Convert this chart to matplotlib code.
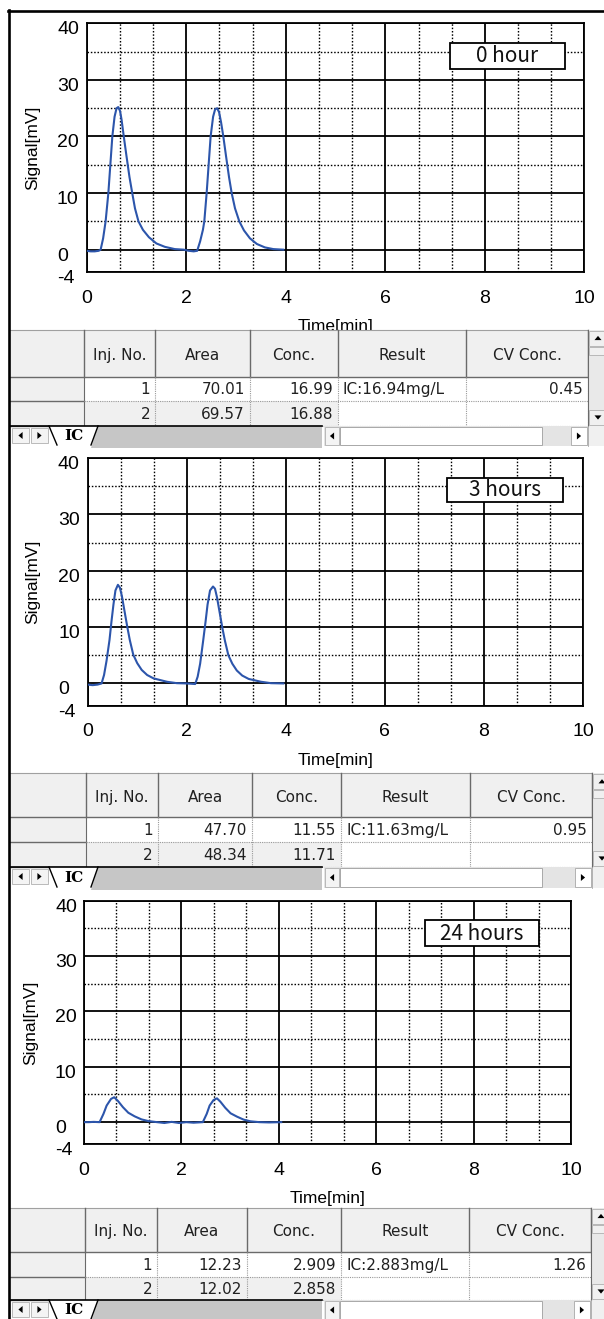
import matplotlib
matplotlib.use("Agg")
import matplotlib.pyplot as plt
import matplotlib.transforms as mtransforms
from matplotlib.patches import Rectangle, Polygon
from matplotlib.lines import Line2D
from matplotlib.ticker import MultipleLocator

W, H, DPI = 604, 1319, 100
plt.rcParams['font.family'] = ['Liberation Sans', 'DejaVu Sans']

# ---------------- data ----------------
panel_labels = ["0 hour", "3 hours", "24 hours"]
x_label = "Time[min]"
y_label = "Signal[mV]"
x_ticks = [0, 2, 4, 6, 8, 10]
y_ticks = [-4, 0, 10, 20, 30, 40]

time_0h = [0.00, 0.08, 0.16, 0.24, 0.28, 0.33, 0.38, 0.435, 0.475, 0.515, 0.56, 0.60, 0.635,
           0.67, 0.70, 0.745, 0.80, 0.86, 0.915, 0.97, 1.04, 1.13, 1.25, 1.40, 1.57, 1.77,
           1.95, 2.05, 2.15, 2.22, 2.28, 2.335, 2.363, 2.41, 2.45, 2.49, 2.54, 2.58, 2.62,
           2.66, 2.70, 2.745, 2.80, 2.86, 2.913, 2.98, 3.066, 3.16, 3.28, 3.42, 3.58, 3.75, 3.95]
signal_0h = [-0.2, -0.3, -0.3, -0.2, 0.0, 2.0, 5.0, 10.0, 15.0, 20.0, 23.5, 25.0, 25.2,
             24.5, 23.0, 20.0, 16.5, 12.8, 10.0, 7.3, 5.0, 3.5, 2.2, 1.1, 0.5, 0.1,
             0.0, -0.2, -0.3, -0.2, 1.5, 3.5, 5.0, 10.0, 15.0, 20.0, 23.5, 24.8, 25.0,
             24.3, 22.5, 20.0, 16.5, 12.8, 10.0, 7.3, 5.0, 3.4, 2.0, 1.0, 0.4, 0.1, 0.0]

time_3h = [0.00, 0.10, 0.20, 0.28, 0.33, 0.38, 0.44, 0.48, 0.52, 0.56, 0.61, 0.65, 0.69,
           0.74, 0.80, 0.85, 0.92, 1.00, 1.09, 1.20, 1.33, 1.60, 1.80, 2.00, 2.17, 2.22,
           2.27, 2.33, 2.38, 2.42, 2.47, 2.53, 2.57, 2.61, 2.66, 2.72, 2.77, 2.84, 2.92,
           3.01, 3.12, 3.25, 3.50, 3.70, 3.95]
signal_3h = [-0.2, -0.3, -0.2, 0.0, 1.5, 4.0, 7.7, 11.0, 14.0, 16.5, 17.5, 17.0, 15.5,
             13.0, 10.0, 7.7, 5.1, 3.6, 2.4, 1.5, 0.9, 0.3, 0.05, 0.0, -0.1, 1.2,
             3.5, 7.5, 11.0, 14.0, 16.5, 17.2, 16.8, 15.3, 12.8, 9.8, 7.6, 5.0, 3.5,
             2.3, 1.4, 0.8, 0.3, 0.05, 0.0]

time_24h = [0.00, 0.10, 0.20, 0.32, 0.40, 0.465, 0.555, 0.62, 0.70, 0.80, 0.91, 1.04, 1.18,
            1.32, 1.50, 1.65, 1.80, 1.95, 2.10, 2.25, 2.44, 2.52, 2.58, 2.66, 2.73, 2.80,
            2.90, 3.01, 3.14, 3.28, 3.42, 3.60, 3.80, 4.05]
signal_24h = [0.0, 0.0, 0.05, 0.0, 1.5, 3.0, 4.2, 4.5, 3.8, 2.7, 1.7, 1.05, 0.5,
              0.2, 0.0, -0.15, 0.05, -0.15, 0.0, -0.1, 0.0, 1.5, 3.0, 4.0, 4.3, 3.7,
              2.6, 1.6, 1.0, 0.45, 0.15, 0.0, -0.05, 0.0]

table_columns = ["Inj. No.", "Area", "Conc.", "Result", "CV Conc."]
inj_no = [1, 2]
area_0h = [70.01, 69.57]
conc_0h = [16.99, 16.88]
result_0h = "IC:16.94mg/L"
cv_0h = 0.45
area_3h = [47.70, 48.34]
conc_3h = [11.55, 11.71]
result_3h = "IC:11.63mg/L"
cv_3h = 0.95
area_24h = [12.23, 12.02]
conc_24h = [2.909, 2.858]
result_24h = "IC:2.883mg/L"
cv_24h = 1.26
sheet_tab = "IC"

# ---------------- layout (pixels) ----------------
layouts = [
    dict(ax=(86.7, 23.3, 584.4, 272.3), ytx=57, ylab_x=33, leg=(449.5, 42.7, 565.0, 69.0),
         tbl=(330.0, 376.7, 401.0, 426.0, 446.0), cols=(84, 155, 250, 338, 466, 588), cfmt="{:.2f}"),
    dict(ax=(87.7, 458.0, 583.0, 706.0), ytx=58, ylab_x=33, leg=(447.0, 478.0, 563.0, 502.0),
         tbl=(773.3, 817.3, 842.0, 867.0, 888.0), cols=(86, 158, 252, 341, 470, 592), cfmt="{:.2f}"),
    dict(ax=(84.0, 900.7, 571.0, 1144.3), ytx=55, ylab_x=31, leg=(424.5, 920.0, 539.0, 946.0),
         tbl=(1208.0, 1251.7, 1277.0, 1300.0, 1320.0), cols=(84.7, 157, 247, 341, 469, 591), cfmt="{:.3f}"),
]

series = [(time_0h, signal_0h), (time_3h, signal_3h), (time_24h, signal_24h)]
tables = [(area_0h, conc_0h, result_0h, cv_0h),
          (area_3h, conc_3h, result_3h, cv_3h),
          (area_24h, conc_24h, result_24h, cv_24h)]

LINE = '#2c55ab'
HDR = '#f0f0f0'
DARK = '#6a6a6a'
DOT = '#9a9a9a'
TFONT = 'DejaVu Sans'

fig = plt.figure(figsize=(W / DPI, H / DPI), dpi=DPI)
fig.patch.set_facecolor('white')

ov = fig.add_axes([0, 0, 1, 1], zorder=10)
ov.set_xlim(0, W)
ov.set_ylim(H, 0)
ov.axis('off')


def hline(x0, x1, y, **kw):
    ov.add_line(Line2D([x0, x1], [y, y], **kw))


def vline(x, y0, y1, **kw):
    ov.add_line(Line2D([x, x], [y0, y1], **kw))


def tri(cx, cy, d, s=3.5, color='black'):
    if d == 'l':
        pts = [(cx - s * 0.6, cy), (cx + s * 0.6, cy - s), (cx + s * 0.6, cy + s)]
    elif d == 'r':
        pts = [(cx + s * 0.6, cy), (cx - s * 0.6, cy - s), (cx - s * 0.6, cy + s)]
    elif d == 'u':
        pts = [(cx, cy - s * 0.6), (cx - s, cy + s * 0.6), (cx + s, cy + s * 0.6)]
    else:
        pts = [(cx, cy + s * 0.6), (cx - s, cy - s * 0.6), (cx + s, cy - s * 0.6)]
    ov.add_patch(Polygon(pts, closed=True, fc=color, ec='none', zorder=8))


for lay, (tt, ss), label, tbl in zip(layouts, series, panel_labels, tables):
    l, t, r, b = lay['ax']
    ax = fig.add_axes([l / W, 1 - b / H, (r - l) / W, (b - t) / H], zorder=1)
    ax.set_xlim(0, 10)
    ax.set_ylim(-4, 40)
    ax.plot(tt, ss, color=LINE, lw=1.5, zorder=3)
    ax.set_xticks(x_ticks, labels=[str(v) for v in x_ticks])
    ax.set_yticks(y_ticks, labels=[str(v) for v in y_ticks])
    ax.xaxis.set_minor_locator(MultipleLocator(2 / 3))
    ax.yaxis.set_minor_locator(MultipleLocator(5))
    ax.grid(which='major', color='black', lw=1.3, ls='-')
    ax.grid(which='minor', color='black', lw=1.0, ls=(0, (1.1, 1.3)))
    ax.set_axisbelow(True)
    ax.tick_params(which='both', length=0)
    ax.tick_params(axis='x', pad=12.5, labelsize=14)
    ax.tick_params(axis='y', pad=(l - lay['ytx']) * 72 / DPI, labelsize=14)
    off = mtransforms.ScaledTranslation(0, -4.5 / DPI, fig.dpi_scale_trans)
    for lab in ax.get_yticklabels():
        lab.set_horizontalalignment('left')
        lab.set_transform(lab.get_transform() + off)
    for sp in ax.spines.values():
        sp.set_linewidth(1.3)
        sp.set_color('black')
    ax.set_xlabel(x_label, fontsize=12.5, va='center')
    ax.xaxis.set_label_coords(0.5, -54 / (b - t))
    ax.set_ylabel(y_label, fontsize=12.5, va='center')
    ax.yaxis.set_label_coords((lay['ylab_x'] - l) / (r - l), 0.5)

    # legend box
    lx0, ly0, lx1, ly1 = lay['leg']
    ov.add_patch(Rectangle((lx0, ly0), lx1 - lx0, ly1 - ly0, fc='white', ec='black', lw=1.3, zorder=5))
    ov.text((lx0 + lx1) / 2, (ly0 + ly1) / 2 + 0.5, label, family='Noto Sans CJK JP', fontsize=15,
            ha='center', va='center', zorder=6, color='#111111')

    # ---------- table ----------
    top, hb, r1, r2, tb = lay['tbl']
    c = lay['cols']
    areas, concs, result, cv = tbl
    L = 10
    ov.add_patch(Rectangle((L, top), W - L, r2 - top, fc='white', ec='none', zorder=1))
    ov.add_patch(Rectangle((L, top), c[5] - L, hb - top, fc=HDR, ec='none', zorder=1))
    ov.add_patch(Rectangle((L, hb), c[0] - L, r2 - hb, fc=HDR, ec='none', zorder=1))
    ov.add_patch(Rectangle((c[0], r1), c[3] - c[0], r2 - r1, fc=HDR, ec='none', zorder=1))
    hline(L, c[5], top, color='#a0a0a0', lw=0.8, zorder=2)
    hline(L, c[5], hb, color=DARK, lw=1.0, zorder=2)
    for x in c:
        vline(x, top, hb, color=DARK, lw=1.0, zorder=2)
    vline(c[0], hb, r2, color=DARK, lw=0.8, zorder=2)
    hline(L, c[0], r1, color=DARK, lw=1.0, zorder=2)
    hline(L, c[0], r2, color=DARK, lw=1.0, zorder=2)
    for x in c[1:]:
        vline(x, hb, r2, color=DOT, lw=0.8, ls=(0, (1, 1)), zorder=2)
    hline(c[0], c[5], r1, color=DOT, lw=0.8, ls=(0, (1, 1)), zorder=2)
    hline(c[0], c[5], r2, color=DOT, lw=0.8, ls=(0, (1, 1)), zorder=2)

    for i, name in enumerate(table_columns):
        ov.text((c[i] + c[i + 1]) / 2, (top + hb) / 2 + 2, name, family=TFONT, fontsize=11,
                ha='center', va='center', color='#202020', zorder=3)
    rows_y = [(hb + r1) / 2 + 1, (r1 + r2) / 2 + 1]
    pad = 5
    for k in range(2):
        y = rows_y[k]
        ov.text(c[1] - pad, y, str(inj_no[k]), family=TFONT, fontsize=11, ha='right', va='center',
                color='#202020', zorder=3)
        ov.text(c[2] - pad, y, "{:.2f}".format(areas[k]), family=TFONT, fontsize=11, ha='right',
                va='center', color='#202020', zorder=3)
        ov.text(c[3] - pad, y, lay['cfmt'].format(concs[k]), family=TFONT, fontsize=11, ha='right',
                va='center', color='#202020', zorder=3)
    ov.text(c[3] + 5, rows_y[0], result, family=TFONT, fontsize=11, ha='left', va='center',
            color='#202020', zorder=3)
    ov.text(c[5] - pad, rows_y[0], "{:.2f}".format(cv), family=TFONT, fontsize=11, ha='right',
            va='center', color='#202020', zorder=3)

    # vertical scrollbar
    ov.add_patch(Rectangle((c[5], top), W - c[5], r2 - top, fc='#e9e9e9', ec='none', zorder=2))
    vline(c[5], top, r2, color=DARK, lw=0.8, zorder=3)
    ov.add_patch(Rectangle((c[5] + 1, top + 1), W - c[5], 15, fc=HDR, ec='#b0b0b0', lw=0.6, zorder=3))
    ov.add_patch(Rectangle((c[5] + 1, top + 17), W - c[5], 8, fc=HDR, ec='#b0b0b0', lw=0.6, zorder=3))
    ov.add_patch(Rectangle((c[5] + 1, r2 - 16), W - c[5], 15, fc=HDR, ec='#b0b0b0', lw=0.6, zorder=3))
    tri(c[5] + 10, top + 8, 'u', s=3.5)
    tri(c[5] + 10, r2 - 8.5, 'd', s=3.5)

    # ---------- sheet tab bar ----------
    y0, y1 = r2, tb
    ov.add_patch(Rectangle((L, y0), W - L, y1 - y0, fc='white', ec='none', zorder=1))
    for bx, d in [(12, 'l'), (31, 'r')]:
        ov.add_patch(Rectangle((bx, y0 + 2), 17, 15, fc='#f4f4f4', ec='#b0b0b0', lw=0.6, zorder=2))
        tri(bx + 8.5, y0 + 9.5, d, s=3.5)
    ov.add_patch(Polygon([(91, y1 + 2), (98, y0), (322, y0), (322, y1 + 2)], closed=True,
                         fc='#c6c6c6', ec='none', zorder=2))
    ov.add_patch(Polygon([(49, y0), (57, y1 - 1), (91, y1 - 1), (98, y0)], closed=True,
                         fc='white', ec='none', zorder=3))
    ov.add_line(Line2D([49, 57], [y0, y1 - 1], color='black', lw=1.0, zorder=4))
    ov.add_line(Line2D([91, 98], [y1 - 1, y0], color='black', lw=1.0, zorder=4))
    ov.text(74, (y0 + y1) / 2 + 0.5, sheet_tab, family='DejaVu Serif', weight='bold', fontsize=11,
            ha='center', va='center', zorder=4)
    hline(L, 322, y0, color='black', lw=1.2, zorder=4)
    ov.add_patch(Rectangle((324, y0), c[5] - 324, y1 - y0, fc='#e4e4e4', ec='none', zorder=2))
    ov.add_patch(Rectangle((325, y0 + 1), 14, y1 - y0 - 2, fc='#f4f4f4', ec='#b0b0b0', lw=0.6, zorder=3))
    tri(332, (y0 + y1) / 2, 'l', s=3.5)
    ov.add_patch(Rectangle((340, y0 + 1), 202, y1 - y0 - 2, fc='white', ec='#a8a8a8', lw=0.7, zorder=3))
    ov.add_patch(Rectangle((c[5] - 17, y0 + 1), 16, y1 - y0 - 2, fc='white', ec='#a8a8a8', lw=0.6, zorder=3))
    tri(c[5] - 9, (y0 + y1) / 2, 'r', s=3.5)
    ov.add_patch(Rectangle((c[5], y0), W - c[5], y1 - y0, fc=HDR, ec='none', zorder=2))
    vline(c[5], y0, y1, color='#a8a8a8', lw=0.6, zorder=3)

# outer frame of the screenshot
ov.add_line(Line2D([9.2, 9.2], [9.5, H], color='black', lw=1.9, zorder=20))
ov.add_line(Line2D([8.3, W], [10.6, 10.6], color='black', lw=1.9, zorder=20))

fig.savefig('out.png', dpi=DPI)
